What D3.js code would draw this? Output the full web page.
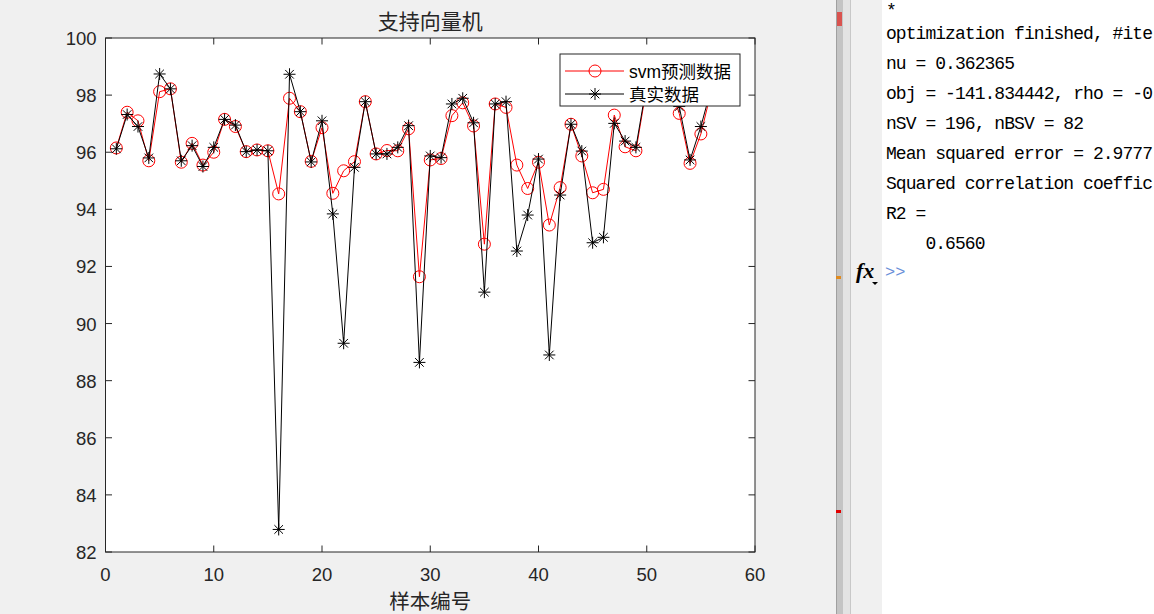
<!DOCTYPE html>
<html><head><meta charset="utf-8">
<script src="https://cdn.jsdelivr.net/npm/d3@7"></script>
<style>
html,body{margin:0;padding:0;background:#f0f0f0;}
svg{display:block;}
</style></head>
<body>
<svg id="c" width="1154" height="614"></svg>
<script>
const sampleIdx = d3.range(1, 57);
const svmPred = [96.15,97.4,97.1,95.7,98.12,98.22,95.65,96.31,95.55,96.0,
  97.15,96.9,96.02,96.08,96.05,94.54,97.89,97.42,95.68,96.86,
  94.56,95.35,95.67,97.77,95.94,96.06,96.05,96.82,91.64,95.73,
  95.78,97.28,97.73,96.92,92.78,97.69,97.57,95.55,94.73,95.65,
  93.45,94.76,96.98,95.87,94.58,94.7,97.3,96.19,96.05,98.3,
  98.6,98.4,97.36,95.61,96.64,98.2];
const realData = [96.12,97.32,96.9,95.8,98.74,98.22,95.7,96.23,95.5,96.17,
  97.15,96.95,96.02,96.08,96.05,82.79,98.73,97.42,95.66,97.1,
  93.84,89.31,95.47,97.77,95.94,95.94,96.17,96.93,88.64,95.87,
  95.81,97.69,97.89,97.03,91.1,97.69,97.77,92.54,93.8,95.76,
  88.9,94.5,96.98,96.04,92.83,93.02,97.01,96.39,96.17,98.4,
  98.9,98.8,97.6,95.73,96.9,98.3];
const xTicks = [0,10,20,30,40,50,60];
const yTicks = [82,84,86,88,90,92,94,96,98,100];
const titleText = "支持向量机";
const xLabelText = "样本编号";
const legendLabels = ["svm预测数据","真实数据"];
const consoleLines = ["*","optimization finished, #ite","nu = 0.362365",
  "obj = -141.834442, rho = -0","nSV = 196, nBSV = 82",
  "Mean squared error = 2.9777","Squared correlation coeffic",
  "R2 =","    0.6560"];

const svg = d3.select("#c");
const L = 105.5, R = 755, T = 38, B = 552;
const x = d3.scaleLinear().domain([0,60]).range([L,R]);
const y = d3.scaleLinear().domain([82,100]).range([B,T]);
const ax = "#262626";

// right panel
svg.append("rect").attr("x",836).attr("y",0).attr("width",7).attr("height",614).attr("fill","#c4c4c4");
svg.append("rect").attr("x",836).attr("y",0).attr("width",1).attr("height",614).attr("fill","#a0a0a0");
svg.append("rect").attr("x",843).attr("y",0).attr("width",8).attr("height",614).attr("fill","#e3e3e3");
svg.append("rect").attr("x",850).attr("y",0).attr("width",1).attr("height",614).attr("fill","#c8c8c8");
svg.append("rect").attr("x",837).attr("y",12).attr("width",5).attr("height",14).attr("fill","#d9534f");
svg.append("rect").attr("x",836).attr("y",276).attr("width",5).attr("height",3).attr("fill","#e08a1e");
svg.append("rect").attr("x",836).attr("y",510).attr("width",5).attr("height",3).attr("fill","#e00000");
svg.append("rect").attr("x",882).attr("y",0).attr("width",272).attr("height",614).attr("fill","#ffffff");
const cw = svg.append("g").attr("font-family","Liberation Mono, DejaVu Sans Mono, monospace").attr("font-size","18px").attr("letter-spacing","-0.95px").attr("fill","#000");
consoleLines.forEach((t,i)=>{
  cw.append("text").attr("x",886).attr("y", i===0 ? 16 : 9 + i*30).attr("xml:space","preserve").style("white-space","pre").text(t);
});
svg.append("text").attr("x",856).attr("y",278).attr("font-family","Liberation Serif, serif").attr("font-style","italic").attr("font-weight","bold").attr("font-size","22px").attr("fill","#000").text("fx");
svg.append("path").attr("d","M872,282 l3,3 l3,-3 z").attr("fill","#000");
svg.append("text").attr("x",885).attr("y",277).attr("font-family","Liberation Mono, monospace").attr("font-size","17px").attr("fill","#6a8fd8").text(">>");

// axes box
svg.append("rect").attr("x",L).attr("y",T).attr("width",R-L).attr("height",B-T).attr("fill","#fff");

const clip = svg.append("clipPath").attr("id","clp").append("rect").attr("x",L).attr("y",T).attr("width",R-L).attr("height",B-T);
const plot = svg.append("g").attr("clip-path","url(#clp)");

const line = d3.line().x((d,i)=>x(sampleIdx[i])).y(d=>y(d));
plot.append("path").datum(svmPred).attr("d",line).attr("fill","none").attr("stroke","#ff0000").attr("stroke-width",1);
plot.selectAll("circle.p").data(svmPred).join("circle").attr("class","p")
  .attr("cx",(d,i)=>x(sampleIdx[i])).attr("cy",d=>y(d)).attr("r",6)
  .attr("fill","none").attr("stroke","#ff0000").attr("stroke-width",1);

const star = "M-6,0H6M0,-6V6M-4.3,-4.3L4.3,4.3M-4.3,4.3L4.3,-4.3";
plot.append("path").datum(realData).attr("d",line).attr("fill","none").attr("stroke","#000").attr("stroke-width",1);
plot.selectAll("path.s").data(realData).join("path").attr("class","s")
  .attr("transform",(d,i)=>`translate(${x(sampleIdx[i])},${y(d)})`)
  .attr("d",star).attr("fill","none").attr("stroke","#000").attr("stroke-width",1);

// axes
const tl = 6.5;
const axg = svg.append("g");
axg.append("rect").attr("x",L).attr("y",T).attr("width",R-L).attr("height",B-T).attr("fill","none").attr("stroke",ax).attr("stroke-width",1);
xTicks.forEach(t=>{
  axg.append("line").attr("x1",x(t)).attr("x2",x(t)).attr("y1",B).attr("y2",B-tl).attr("stroke",ax);
  axg.append("line").attr("x1",x(t)).attr("x2",x(t)).attr("y1",T).attr("y2",T+tl).attr("stroke",ax);
  axg.append("text").attr("x",x(t)).attr("y",B+29).attr("text-anchor","middle")
    .attr("font-family","Liberation Sans, Arial, sans-serif").attr("font-size","18.5px").attr("fill",ax).text(t);
});
yTicks.forEach(t=>{
  axg.append("line").attr("x1",L).attr("x2",L+tl).attr("y1",y(t)).attr("y2",y(t)).attr("stroke",ax);
  axg.append("line").attr("x1",R).attr("x2",R-tl).attr("y1",y(t)).attr("y2",y(t)).attr("stroke",ax);
  axg.append("text").attr("x",L-9).attr("y",y(t)+7).attr("text-anchor","end")
    .attr("font-family","Liberation Sans, Arial, sans-serif").attr("font-size","18.5px").attr("fill",ax).text(t);
});
svg.append("text").attr("x",(L+R)/2).attr("y",29).attr("text-anchor","middle")
  .attr("font-family","Noto Sans CJK SC, sans-serif").attr("font-size","21px").attr("fill",ax).text(titleText);
svg.append("text").attr("x",(L+R)/2).attr("y",609).attr("text-anchor","middle")
  .attr("font-family","Noto Sans CJK SC, sans-serif").attr("font-size","20.5px").attr("fill",ax).text(xLabelText);

// legend
const lg = svg.append("g");
lg.append("rect").attr("x",560).attr("y",54).attr("width",180).attr("height",52).attr("fill","#fff").attr("stroke",ax).attr("stroke-width",1);
const ly = [71, 94];
lg.append("line").attr("x1",565).attr("x2",624).attr("y1",ly[0]).attr("y2",ly[0]).attr("stroke","#ff0000");
lg.append("circle").attr("cx",595).attr("cy",ly[0]).attr("r",6).attr("fill","none").attr("stroke","#ff0000");
lg.append("line").attr("x1",565).attr("x2",624).attr("y1",ly[1]).attr("y2",ly[1]).attr("stroke","#000");
lg.append("path").attr("transform",`translate(595,${ly[1]})`).attr("d",star).attr("fill","none").attr("stroke","#000");
legendLabels.forEach((t,i)=>{
  lg.append("text").attr("x",629).attr("y",ly[i]+6.5).attr("font-family","Liberation Sans, Noto Sans CJK SC, sans-serif")
    .attr("font-size","17.5px").attr("fill","#000").text(t);
});
</script>
</body></html>
